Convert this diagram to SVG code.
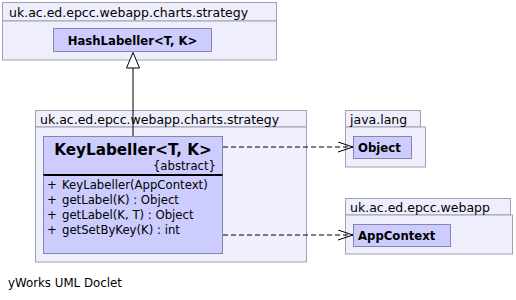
<svg xmlns="http://www.w3.org/2000/svg" width="516" height="300" viewBox="0 0 516 300">
  <defs>
    <style>
      .pkg { fill: #eeeefc; stroke: #a0a0b4; stroke-width: 1; }
      .cls { fill: #ccccff; stroke: #8686a8; stroke-width: 1; }
      .pkgname { font-family: "DejaVu Sans", sans-serif; font-size: 12.5px; fill: #000; }
      .clsname { font-family: "DejaVu Sans", sans-serif; font-weight: bold; font-size: 11.7px; fill: #000; }
      .title { font-family: "DejaVu Sans", sans-serif; font-weight: bold; font-size: 15.2px; fill: #000; }
      .member { font-family: "DejaVu Sans", sans-serif; font-size: 11.7px; fill: #000; }
      .edge { fill: none; stroke: #000; stroke-width: 1; }
      .dep { fill: none; stroke: #000; stroke-width: 1; stroke-dasharray: 5 3; }
    </style>
    <marker id="open" markerUnits="userSpaceOnUse" markerWidth="18" markerHeight="12" refX="15" refY="5" orient="auto">
      <path d="M0,0 L15,5 L0,10" fill="none" stroke="#000" stroke-width="1"/>
    </marker>
  </defs>

  <!-- package uk.ac.ed.epcc.webapp.charts.strategy (top) -->
  <g id="pkg-strategy-top">
    <rect class="pkg" x="2.5" y="2.5" width="274" height="18.5"/>
    <rect class="pkg" x="2.5" y="21" width="274" height="39"/>
    <text class="pkgname" x="9" y="17">uk.ac.ed.epcc.webapp.charts.strategy</text>
  </g>

  <g id="HashLabeller">
    <rect class="cls" x="53.5" y="28.5" width="158" height="23"/>
    <text class="clsname" x="132.5" y="45" text-anchor="middle">HashLabeller&lt;T, K&gt;</text>
  </g>

  <!-- package uk.ac.ed.epcc.webapp.charts.strategy (bottom) -->
  <g id="pkg-strategy">
    <rect class="pkg" x="35.5" y="110.5" width="271" height="16.5"/>
    <rect class="pkg" x="35.5" y="127" width="271" height="135"/>
    <text class="pkgname" x="40" y="124">uk.ac.ed.epcc.webapp.charts.strategy</text>
  </g>

  <g id="KeyLabeller">
    <rect class="cls" x="43.5" y="136.5" width="179" height="117"/>
    <text class="title" x="133" y="155" text-anchor="middle">KeyLabeller&lt;T, K&gt;</text>
    <text class="member" x="216" y="170" text-anchor="end">{abstract}</text>
    <line x1="43.5" y1="175" x2="222.5" y2="175" stroke="#000" stroke-width="2"/>
    <text class="member" x="47" y="189">+</text>
    <text class="member" x="62" y="189">KeyLabeller(AppContext)</text>
    <text class="member" x="47" y="204">+</text>
    <text class="member" x="62" y="204">getLabel(K) : Object</text>
    <text class="member" x="47" y="219">+</text>
    <text class="member" x="62" y="219">getLabel(K, T) : Object</text>
    <text class="member" x="47" y="234">+</text>
    <text class="member" x="62" y="234">getSetByKey(K) : int</text>
  </g>

  <!-- package java.lang -->
  <g id="pkg-java-lang">
    <rect class="pkg" x="345.5" y="110.5" width="75" height="16.5"/>
    <rect class="pkg" x="345.5" y="127" width="80" height="40"/>
    <text class="pkgname" x="350" y="124">java.lang</text>
  </g>

  <g id="Object">
    <rect class="cls" x="353.5" y="136.5" width="58" height="22"/>
    <text class="clsname" x="358" y="152">Object</text>
  </g>

  <!-- package uk.ac.ed.epcc.webapp -->
  <g id="pkg-webapp">
    <rect class="pkg" x="345.5" y="198.5" width="165" height="16.5"/>
    <rect class="pkg" x="345.5" y="215" width="167" height="39"/>
    <text class="pkgname" x="350" y="212">uk.ac.ed.epcc.webapp</text>
  </g>

  <g id="AppContext">
    <rect class="cls" x="353.5" y="224.5" width="97" height="22"/>
    <text class="clsname" x="358" y="240">AppContext</text>
  </g>

  <!-- connectors -->
  <g id="connectors">
    <line class="edge" x1="133" y1="68" x2="133" y2="136"/>
    <path d="M133,52.5 L139.5,68 L126.5,68 Z" fill="#fff" stroke="#000" stroke-width="1"/>
    <line class="dep" x1="223" y1="147" x2="353" y2="147" marker-end="url(#open)"/>
    <line class="dep" x1="223" y1="235" x2="353" y2="235" marker-end="url(#open)"/>
  </g>

  <text class="member" x="8" y="287" style="font-size:11.8px">yWorks UML Doclet</text>
</svg>
